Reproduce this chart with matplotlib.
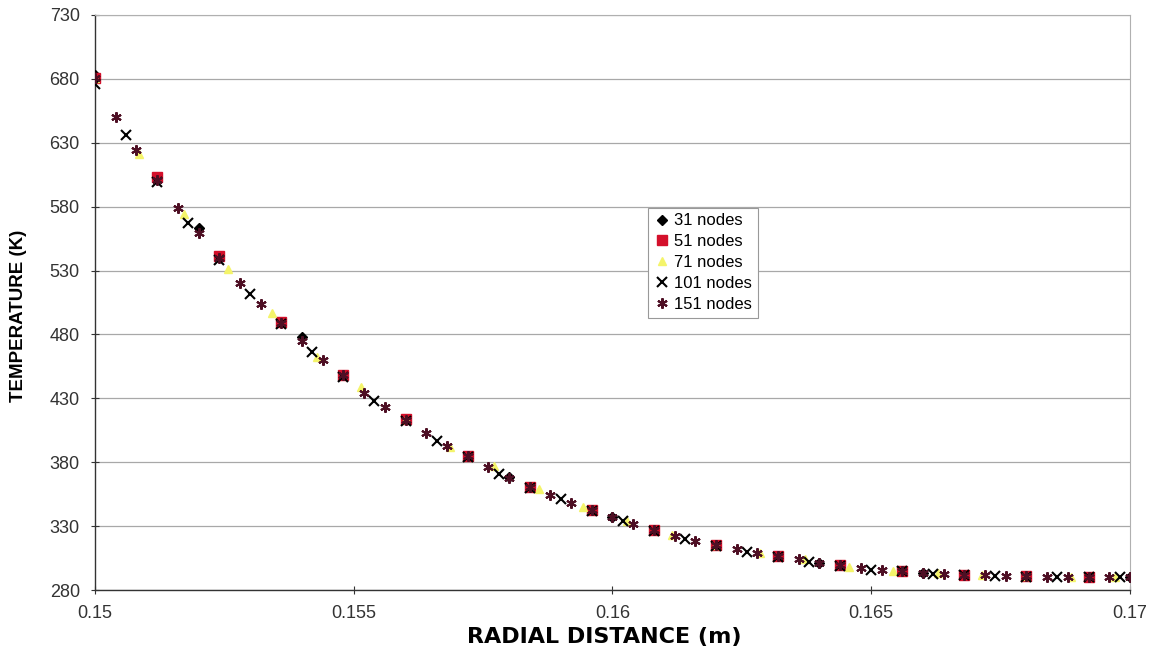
import matplotlib
matplotlib.use("Agg")
import matplotlib.pyplot as plt

plt.rcParams['font.family'] = ['Liberation Sans', 'DejaVu Sans']

# radial distance (m) and temperature (K) for each mesh, every 3rd node shown
x31 = [0.150, 0.152, 0.154, 0.156, 0.158, 0.160, 0.162, 0.164, 0.166, 0.168, 0.170]
t31 = [683, 563.6, 477.7, 414, 368.5, 337.5, 315.5, 301.5, 293.5, 291, 290]

x51 = [0.1500, 0.1512, 0.1524, 0.1536, 0.1548, 0.1560, 0.1572, 0.1584, 0.1596,
       0.1608, 0.1620, 0.1632, 0.1644, 0.1656, 0.1668, 0.1680, 0.1692]
t51 = [681, 603, 541.5, 489.5, 448, 413.6, 384.7, 361, 342.5,
       327, 315, 306.5, 299.5, 295, 292, 291, 290]

x71 = [0.15, 0.150857, 0.151714, 0.152571, 0.153429, 0.154286, 0.155143, 0.156,
       0.156857, 0.157714, 0.158571, 0.159429, 0.160286, 0.161143, 0.162, 0.162857,
       0.163714, 0.164571, 0.165429, 0.166286, 0.167143, 0.168, 0.168857, 0.169714]
t71 = [681, 621, 574, 531.5, 496.4, 462, 439, 414,
       392, 377, 359, 345, 334, 323, 315.5, 309,
       304, 298, 295, 293, 291.5, 291, 290.5, 290]

x101 = [0.1500, 0.1506, 0.1512, 0.1518, 0.1524, 0.1530, 0.1536, 0.1542, 0.1548,
        0.1554, 0.1560, 0.1566, 0.1572, 0.1578, 0.1584, 0.1590, 0.1596, 0.1602,
        0.1608, 0.1614, 0.1620, 0.1626, 0.1632, 0.1638, 0.1644, 0.1650, 0.1656,
        0.1662, 0.1668, 0.1674, 0.1680, 0.1686, 0.1692, 0.1698]
t101 = [676, 636, 599, 567.5, 538.6, 512, 488, 466, 447,
        427.6, 412, 397, 384, 371, 360, 351, 342, 334,
        326.5, 320, 314.5, 309.7, 306, 302, 299, 296, 294.5,
        292.5, 291.5, 291, 290.5, 290.5, 290, 290]

x151 = [0.1500, 0.1504, 0.1508, 0.1512, 0.1516, 0.1520, 0.1524, 0.1528, 0.1532,
        0.1536, 0.1540, 0.1544, 0.1548, 0.1552, 0.1556, 0.1560, 0.1564, 0.1568,
        0.1572, 0.1576, 0.1580, 0.1584, 0.1588, 0.1592, 0.1596, 0.1600, 0.1604,
        0.1608, 0.1612, 0.1616, 0.1620, 0.1624, 0.1628, 0.1632, 0.1636, 0.1640,
        0.1644, 0.1648, 0.1652, 0.1656, 0.1660, 0.1664, 0.1668, 0.1672, 0.1676,
        0.1680, 0.1684, 0.1688, 0.1692, 0.1696, 0.1700]
t151 = [681, 650, 624.5, 601, 579, 559, 540, 520.5, 504,
        489, 475, 460, 448, 434.5, 423, 413, 402.6, 392.5,
        384.7, 376, 368, 361, 354, 348, 342.5, 337, 332,
        327, 322, 318, 315, 312, 309, 306.5, 304, 301.5,
        299.5, 297.5, 296, 295, 293.5, 292.5, 292, 291.5, 291,
        291, 290.5, 290.5, 290, 290, 290]

y_ticks = [280, 330, 380, 430, 480, 530, 580, 630, 680, 730]
x_ticks = [0.15, 0.155, 0.16, 0.165, 0.17]
x_labels = ['0.15', '0.155', '0.16', '0.165', '0.17']

fig = plt.figure(figsize=(11.55, 6.55), dpi=100)
ax = fig.add_axes([0.0823, 0.0992, 0.896, 0.878])

ax.plot(x31, t31, 'D', color='black', ms=5.5, lw=0, label='31 nodes', zorder=3)
ax.plot(x51, t51, 's', color='#d4102b', ms=7, lw=0, label='51 nodes', zorder=4)
ax.plot(x71, t71, '^', color='#f4f46a', ms=5.5, lw=0, label='71 nodes', zorder=5)
ax.plot(x101, t101, 'x', color='black', ms=7, mew=1.5, lw=0, label='101 nodes', zorder=6)
ax.plot(x151, t151, marker=(6, 2, 0), color='#4e0f24', ms=7.5, mew=1.5, lw=0,
        label='151 nodes', zorder=7)

ax.set_xlim(0.15, 0.17)
ax.set_ylim(280, 730)
ax.set_yticks(y_ticks)
ax.set_xticks(x_ticks)
ax.set_xticklabels(x_labels)
ax.yaxis.grid(True, color='#a8a8a8', lw=0.9)
ax.set_axisbelow(True)

for s in ['top', 'right']:
    ax.spines[s].set_color('#b0b0b0')
    ax.spines[s].set_linewidth(0.8)
for s in ['left', 'bottom']:
    ax.spines[s].set_color('#333333')
    ax.spines[s].set_linewidth(1.0)

ax.tick_params(axis='both', direction='inout', length=6, width=0.8,
               colors='#333333', labelsize=13, labelcolor='#333333')
ax.tick_params(axis='x', pad=8)
ax.tick_params(axis='y', pad=8)

ax.set_xlabel('RADIAL DISTANCE (m)', fontsize=16, fontweight='bold',
              family=['DejaVu Sans'])
ax.xaxis.set_label_coords(0.4918, -0.064)
ax.set_ylabel('TEMPERATURE (K)', fontsize=13.5, fontweight='bold')
ax.yaxis.set_label_coords(-0.066, 0.4765)

leg = ax.legend(loc='upper left', bbox_to_anchor=(0.534, 0.665), fontsize=12,
                fancybox=False, edgecolor='#999999', framealpha=1,
                handletextpad=0.25, handlelength=1.0, borderpad=0.35,
                labelspacing=0.35, borderaxespad=0)
leg.get_frame().set_linewidth(0.8)

fig.savefig('out.png', dpi=100)
